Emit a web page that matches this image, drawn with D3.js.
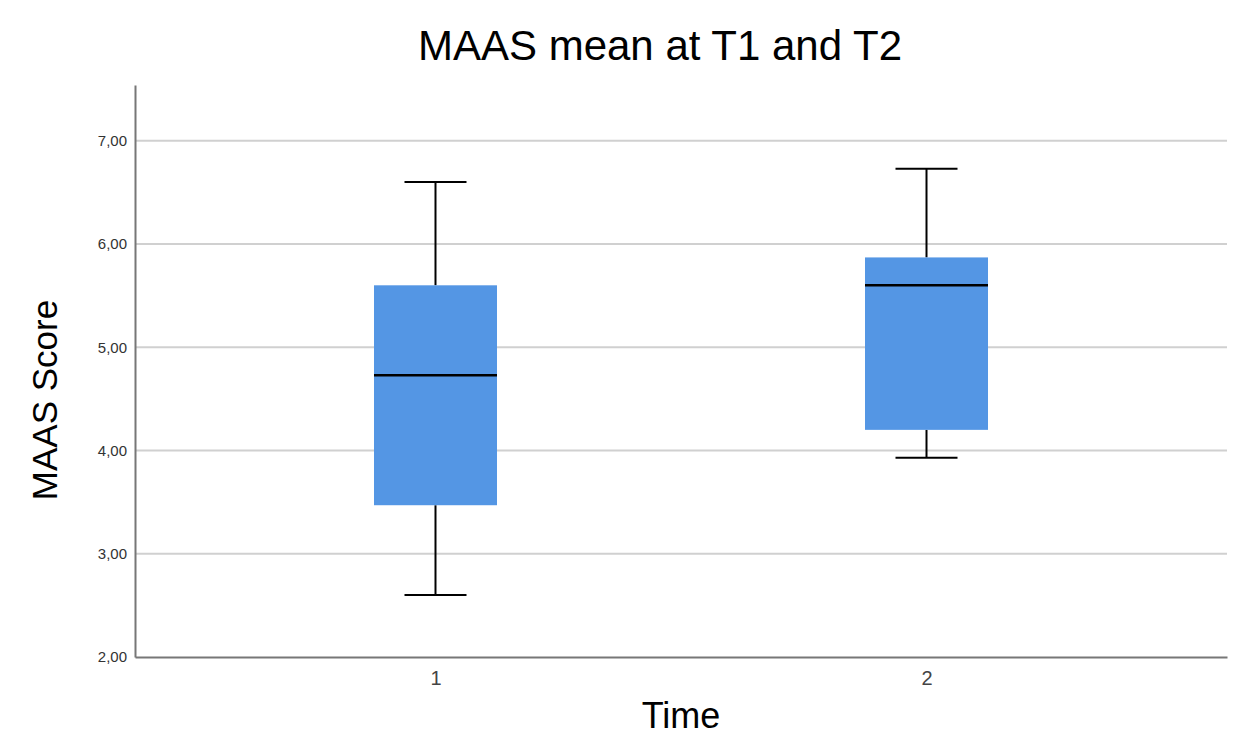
<!DOCTYPE html>
<html>
<head>
<meta charset="utf-8">
<script src="https://cdn.jsdelivr.net/npm/d3@7"></script>
<style>
  html, body { margin: 0; padding: 0; background: #fff; }
  svg { display: block; font-family: "Liberation Sans", Arial, Helvetica, sans-serif; }
</style>
</head>
<body>
<svg id="chart" width="1245" height="735"></svg>
<script>
// Data
const categories = ["1", "2"];
const whiskerLow  = [2.60, 3.93];
const q1          = [3.47, 4.20];
const median      = [4.73, 5.60];
const q3          = [5.60, 5.87];
const whiskerHigh = [6.60, 6.73];
const yTicks = [2, 3, 4, 5, 6, 7];

const title = "MAAS mean at T1 and T2";
const xTitle = "Time";
const yTitle = "MAAS Score";

const svg = d3.select("#chart");
const margin = { left: 135, right: 1227, top: 85, bottom: 657 };

const y = d3.scaleLinear().domain([2, 7.54]).range([margin.bottom, margin.top]);
const x = d3.scalePoint().domain(categories).range([margin.left, margin.right]).padding(0.612);

const boxW = 123, capW = 62;
const fmt = d => d.toFixed(2).replace(".", ",");

// gridlines
svg.append("g").selectAll("line").data(yTicks.filter(t => t > 2)).join("line")
  .attr("x1", margin.left).attr("x2", margin.right)
  .attr("y1", d => y(d)).attr("y2", d => y(d))
  .attr("stroke", "#d0d0d0").attr("stroke-width", 2);

// y axis
const yAxis = svg.append("g").attr("transform", `translate(${margin.left},0)`)
  .call(d3.axisLeft(y).tickValues(yTicks).tickFormat(fmt).tickSize(0).tickPadding(8));
yAxis.attr("font-size", 15).attr("font-family", null);
yAxis.select(".domain").attr("stroke", "#777").attr("stroke-width", 2);
yAxis.selectAll("text").attr("font-size", 15).attr("fill", "#333");

// x axis
const xAxis = svg.append("g").attr("transform", `translate(0,${margin.bottom})`)
  .call(d3.axisBottom(x).tickSize(0).tickPadding(14));
xAxis.attr("font-size", 20).attr("font-family", null);
xAxis.select(".domain").attr("stroke", "#777").attr("stroke-width", 2);
xAxis.selectAll("text").attr("font-size", 20).attr("fill", "#444");

// boxes
const data = categories.map((c, i) => ({ c, lo: whiskerLow[i], q1: q1[i], med: median[i], q3: q3[i], hi: whiskerHigh[i] }));
const g = svg.append("g").selectAll("g").data(data).join("g");

g.append("line").attr("x1", d => x(d.c)).attr("x2", d => x(d.c))
  .attr("y1", d => y(d.hi)).attr("y2", d => y(d.q3)).attr("stroke", "#000").attr("stroke-width", 2);
g.append("line").attr("x1", d => x(d.c)).attr("x2", d => x(d.c))
  .attr("y1", d => y(d.q1)).attr("y2", d => y(d.lo)).attr("stroke", "#000").attr("stroke-width", 2);
g.append("line").attr("x1", d => x(d.c) - capW / 2).attr("x2", d => x(d.c) + capW / 2)
  .attr("y1", d => y(d.hi)).attr("y2", d => y(d.hi)).attr("stroke", "#000").attr("stroke-width", 2);
g.append("line").attr("x1", d => x(d.c) - capW / 2).attr("x2", d => x(d.c) + capW / 2)
  .attr("y1", d => y(d.lo)).attr("y2", d => y(d.lo)).attr("stroke", "#000").attr("stroke-width", 2);
g.append("rect").attr("x", d => x(d.c) - boxW / 2).attr("width", boxW)
  .attr("y", d => y(d.q3)).attr("height", d => y(d.q1) - y(d.q3))
  .attr("fill", "#5496e4");
g.append("line").attr("x1", d => x(d.c) - boxW / 2).attr("x2", d => x(d.c) + boxW / 2)
  .attr("y1", d => y(d.med)).attr("y2", d => y(d.med)).attr("stroke", "#000").attr("stroke-width", 2.5);

// titles
svg.append("text").attr("x", 660).attr("y", 60).attr("text-anchor", "middle")
  .attr("font-size", 42).attr("fill", "#000").text(title);
svg.append("text").attr("x", 681).attr("y", 728).attr("text-anchor", "middle")
  .attr("font-size", 36).attr("fill", "#000").text(xTitle);
svg.append("text").attr("transform", "translate(57,400) rotate(-90)").attr("text-anchor", "middle")
  .attr("font-size", 35).attr("fill", "#000").text(yTitle);
</script>
</body>
</html>
